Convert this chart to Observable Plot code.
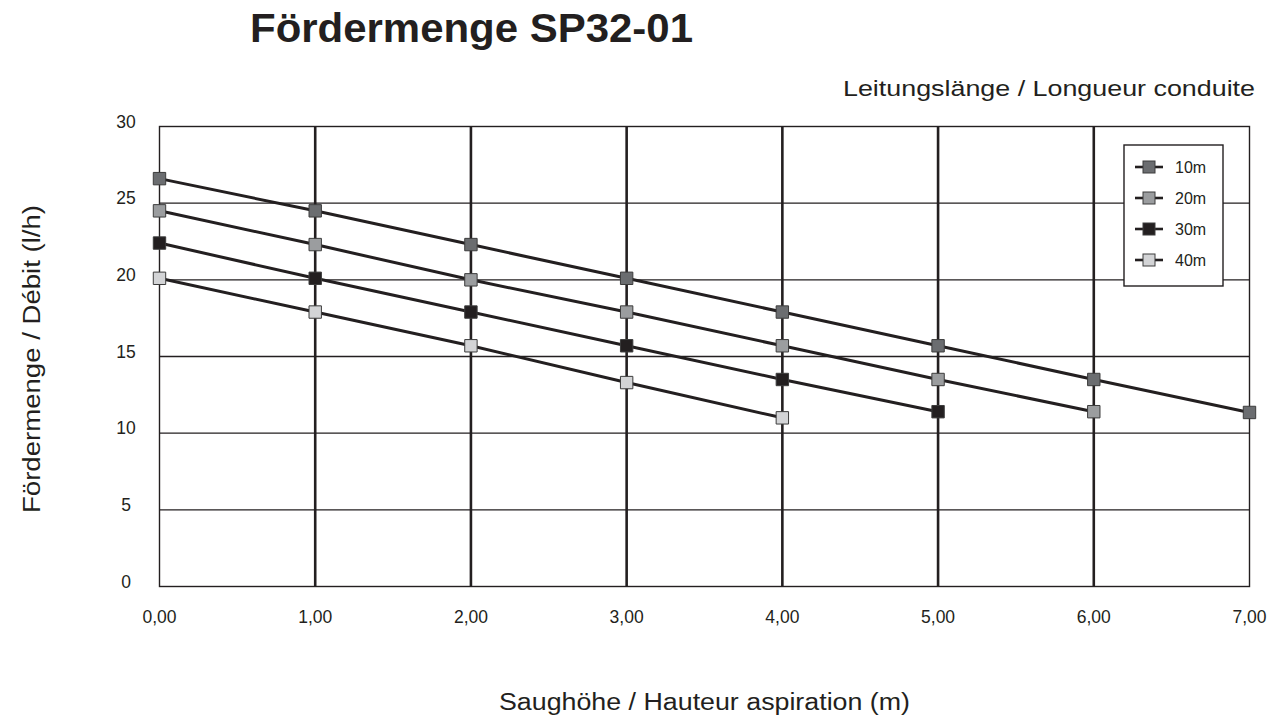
<!DOCTYPE html>
<html><head><meta charset="utf-8">
<script src="https://cdn.jsdelivr.net/npm/d3@7"></script>
<script src="https://cdn.jsdelivr.net/npm/@observablehq/plot@0.6"></script>
<style>
body{margin:0;background:#fff}
#chart{position:relative;width:1274px;height:718px}
</style>
</head><body><div id="chart"></div>
<script>
// Data
const suctionHeights = [0, 1, 2, 3, 4, 5, 6, 7];
const seriesNames = ["10m", "20m", "30m", "40m"];
const flow10m = [26.6, 24.5, 22.3, 20.1, 17.9, 15.7, 13.5, 11.35];
const flow20m = [24.5, 22.3, 20.0, 17.9, 15.7, 13.5, 11.4];
const flow30m = [22.4, 20.1, 17.9, 15.7, 13.5, 11.4];
const flow40m = [20.1, 17.9, 15.7, 13.3, 11.0];
const seriesFills = ["#6b6d70", "#9b9d9f", "#231f20", "#d3d4d6"];
const yTicks = [0, 5, 10, 15, 20, 25, 30];
const xTicks = [0, 1, 2, 3, 4, 5, 6, 7];
const titleText = "Fördermenge SP32-01";
const subtitleText = "Leitungslänge / Longueur conduite";
const xLabelText = "Saughöhe / Hauteur aspiration (m)";
const yLabelText = "Fördermenge / Débit (l/h)";

const allFlows = [flow10m, flow20m, flow30m, flow40m];
const rows = [];
allFlows.forEach((vals, i) => vals.forEach((q, j) => rows.push({h: suctionHeights[j], q, s: seriesNames[i]})));

const ink = "#231f20";
const font = "'Liberation Sans', Arial, Helvetica, sans-serif";

const chart = Plot.plot({
  width: 1274, height: 718,
  marginLeft: 159, marginRight: 25, marginTop: 126, marginBottom: 132,
  x: {domain: [0, 7]},
  y: {domain: [0, 30]},
  color: {domain: seriesNames, range: seriesFills},
  style: {fontFamily: font, fontSize: "17.5px", background: "#fff", color: ink},
  marks: [
    Plot.gridY(yTicks.filter(d => d > 0 && d < 30), {stroke: ink, strokeOpacity: 1, strokeWidth: 1.4}),
    Plot.gridX(xTicks.filter(d => d > 0 && d < 7), {stroke: ink, strokeOpacity: 1, strokeWidth: 2.6}),
    Plot.frame({stroke: ink, strokeWidth: 1.4}),
    Plot.axisY(yTicks, {tickSize: 0, tickPadding: 33.5, textAnchor: "middle", dy: -4.5, label: null, fill: ink, fontSize: 17.5}),
    Plot.axisX(xTicks, {tickSize: 0, tickPadding: 24.5, label: null, fill: ink, fontSize: 17.5,
      tickFormat: d => d.toFixed(2).replace(".", ",")}),
    Plot.line(rows, {x: "h", y: "q", z: "s", stroke: ink, strokeWidth: 3}),
    Plot.dot(rows, {x: "h", y: "q", symbol: "square", r: 7, fill: "s", stroke: "#3c3c3c", strokeWidth: 1})
  ]
});
document.getElementById("chart").appendChild(chart);

const svg = d3.select(chart);
const ann = svg.append("g").attr("text-anchor", "start").attr("font-family", font).attr("fill", ink);
// Title
ann.append("text").attr("x", 250).attr("y", 42)
  .attr("font-weight", "bold").attr("font-size", 41)
  .attr("textLength", 443).attr("lengthAdjust", "spacingAndGlyphs").text(titleText);
// Subtitle
ann.append("text").attr("x", 843).attr("y", 96)
  .attr("font-size", 22)
  .attr("textLength", 412).attr("lengthAdjust", "spacingAndGlyphs").text(subtitleText);
// X label
ann.append("text").attr("x", 499).attr("y", 710)
  .attr("font-size", 23)
  .attr("textLength", 411).attr("lengthAdjust", "spacingAndGlyphs").text(xLabelText);
// Y label
ann.append("text").attr("transform", "translate(40,513) rotate(-90)")
  .attr("font-size", 23)
  .attr("textLength", 308).attr("lengthAdjust", "spacingAndGlyphs").text(yLabelText);

// Legend
const lg = svg.append("g").attr("text-anchor", "start");
lg.append("rect").attr("x", 1124).attr("y", 145).attr("width", 99).attr("height", 141)
  .attr("fill", "#fff").attr("stroke", ink).attr("stroke-width", 1.4);
seriesNames.forEach((name, i) => {
  const cy = 167 + i * 31;
  lg.append("line").attr("x1", 1135).attr("x2", 1163).attr("y1", cy).attr("y2", cy)
    .attr("stroke", ink).attr("stroke-width", 2.6);
  lg.append("rect").attr("x", 1143).attr("y", cy - 6).attr("width", 12).attr("height", 12)
    .attr("fill", seriesFills[i]).attr("stroke", "#3c3c3c").attr("stroke-width", 1);
  lg.append("text").attr("x", 1175).attr("y", cy).attr("dy", "0.36em")
    .attr("font-family", font).attr("font-size", 16).attr("fill", ink).text(name);
});
</script>
</body></html>
